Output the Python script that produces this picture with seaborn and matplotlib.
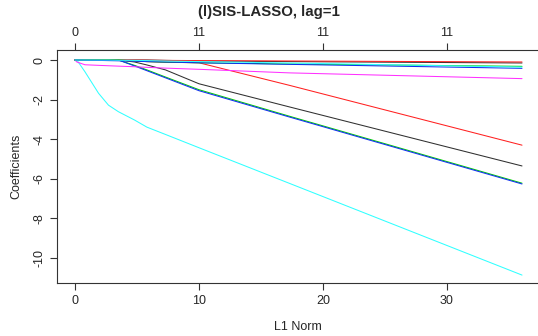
import numpy as np
import pandas as pd
import matplotlib
matplotlib.use("Agg")
import matplotlib.pyplot as plt
import seaborn as sns

# ---- data ----
l1_norm = [0, 0.15, 0.8, 1.9, 2.7, 3.5, 4.8, 5.8, 7.3, 10.0, 17.3, 36.05]

v1_black = [0, 0, 0, 0, 0, 0, -0.10, -0.25, -0.50, -1.20, -2.37, -5.35]
v2_red = [0, 0, 0, 0, 0, 0, -0.05, -0.08, -0.11, -0.14, -1.28, -4.30]
v3_green = [0, 0, 0, 0, 0, 0, -0.27, -0.50, -0.86, -1.50, -2.84, -6.22]
v4_blue = [0, 0, 0, 0, 0, 0, -0.30, -0.54, -0.90, -1.55, -2.88, -6.26]
v5_cyan = [0, 0, -0.59, -1.68, -2.28, -2.61, -3.03, -3.39, -3.76, -4.43, -6.23, -10.86]
v6_magenta = [0, -0.10, -0.24, -0.27, -0.29, -0.31, -0.34, -0.37, -0.41, -0.47, -0.65, -0.94]
v7_black = [0, 0, 0, 0, 0, 0, 0, 0, -0.02, -0.05, -0.08, -0.15]
v8_red = [0, 0, 0, 0, 0, 0, 0, -0.01, -0.02, -0.03, -0.05, -0.10]
v9_green = [0, 0, 0, 0, 0, 0, -0.05, -0.08, -0.11, -0.14, -0.20, -0.32]
v10_blue = [0, 0, -0.01, -0.02, -0.03, -0.04, -0.06, -0.08, -0.10, -0.14, -0.22, -0.42]
v11_cyan = [0, 0, 0, 0, 0, -0.01, -0.02, -0.03, -0.05, -0.08, -0.15, -0.36]

top_ticks = [0, 10, 20, 30]
top_labels = ["0", "11", "11", "11"]
x_ticks = [0, 10, 20, 30]
y_ticks = [0, -2, -4, -6, -8, -10]

series = {
    "V1": v1_black, "V2": v2_red, "V3": v3_green, "V4": v4_blue,
    "V5": v5_cyan, "V6": v6_magenta, "V7": v7_black, "V8": v8_red,
    "V9": v9_green, "V10": v10_blue, "V11": v11_cyan,
}
r_cols = ["#303030", "#FF2020", "#00CD00", "#1030F0", "#30FFFF", "#FF30FF"]
palette = {k: r_cols[i % 6] for i, k in enumerate(series)}

rows = []
for name, vals in series.items():
    for x, y in zip(l1_norm, vals):
        rows.append((name, x, y))
df = pd.DataFrame(rows, columns=["var", "L1", "coef"])

sns.set_theme(style="white")
plt.rcParams["font.family"] = ["Liberation Sans", "DejaVu Sans"]

fig = plt.figure(figsize=(5.38, 3.36), dpi=100)
ax = fig.add_axes([57 / 538, 1 - 283 / 336, 1 - 57 / 538, (283 - 50) / 336])

sns.lineplot(data=df, x="L1", y="coef", hue="var", palette=palette,
             hue_order=list(series), estimator=None, sort=False,
             linewidth=0.75, legend=False, ax=ax)

ax.set_xlim(-1.45, 37.34)
ax.set_ylim(-11.26, 0.505)

for s in ["left", "bottom", "top"]:
    ax.spines[s].set_visible(True)
    ax.spines[s].set_color("#333333")
    ax.spines[s].set_linewidth(0.8)
ax.spines["right"].set_visible(False)

ax.set_xticks(x_ticks)
ax.set_xticklabels([str(t) for t in x_ticks])
ax.set_yticks(y_ticks)
ax.set_yticklabels([str(t) for t in y_ticks], rotation=90, va="center")
ax.tick_params(axis="both", which="both", direction="out", length=5,
               width=0.8, color="#333333", labelsize=9, pad=3,
               left=True, bottom=True)
ax.tick_params(axis="x", pad=4)

ax2 = ax.twiny()
ax2.set_xlim(ax.get_xlim())
ax2.set_xticks(top_ticks)
ax2.set_xticklabels(top_labels)
ax2.tick_params(axis="x", direction="out", length=5, width=0.8,
                color="#333333", labelsize=9, pad=3, top=True)
for s in ax2.spines.values():
    s.set_visible(False)
ax2.grid(False)

ax.set_xlabel("L1 Norm", fontsize=9, labelpad=10)
ax.set_ylabel("Coefficients", fontsize=9, labelpad=8)
fig.text(0.5 + 0.0, 1 - 12 / 336, "(l)SIS-LASSO, lag=1", ha="center",
         va="center", fontsize=10.8, fontweight="bold")

fig.savefig("out.png", dpi=100)
